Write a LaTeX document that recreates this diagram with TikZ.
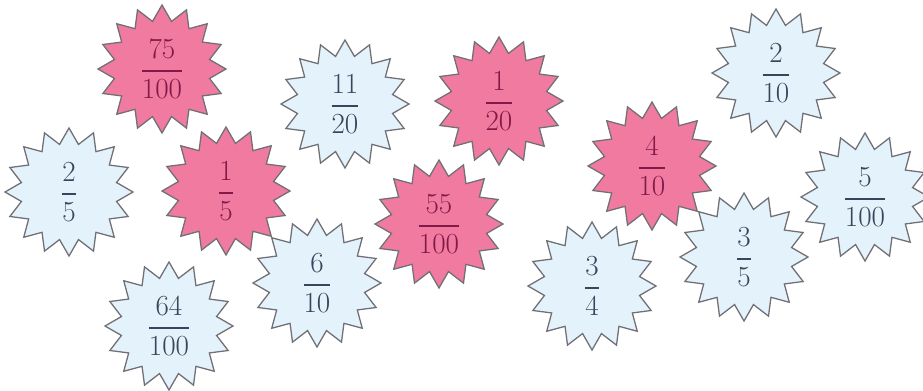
\documentclass[tikz,border=0pt]{standalone}
\usepackage{amsmath}
\usepackage{tikz}
\usetikzlibrary{shapes.geometric}
\definecolor{burstpink}{RGB}{240,122,160}
\definecolor{burstblue}{RGB}{228,243,251}
\definecolor{burstline}{RGB}{112,112,118}
\definecolor{pinktext}{RGB}{130,25,70}
\definecolor{bluetext}{RGB}{55,70,90}

\begin{document}
\begin{tikzpicture}[x=0.03cm,y=-0.03cm,
	burst/.style={star,star points=16,star point ratio=1.32,minimum size=3.84cm,
		inner sep=0pt,draw=burstline,line width=1.1pt,font=\fontsize{24.88}{28}\selectfont},
	pinkburst/.style={burst,fill=burstpink,text=pinktext},
	blueburst/.style={burst,fill=burstblue,text=bluetext}]
				\useasboundingbox (0,0) rectangle (923,390);
				% pink ones first, the blue ones lie on top of them
				\foreach \n/\x/\y/\a/\b in {a/162/69/75/100,b/226/191/1/5,c/499/101/1/20,d/439/224/55/100,e/652/166/4/10}
				\node[pinkburst] (p\n) at (\x,\y) {$\dfrac{\a}{\b}$};
				\foreach \n/\x/\y/\a/\b in {a/345/104/11/20,b/69/192/2/5,c/169/326/64/100,d/317/283/6/10,e/592/286/3/4,f/744/257/3/5,g/776/73/2/10,h/865/197/5/100}
				\node[blueburst] (b\n) at (\x,\y) {$\dfrac{\a}{\b}$};
			\end{tikzpicture}
\end{document}
